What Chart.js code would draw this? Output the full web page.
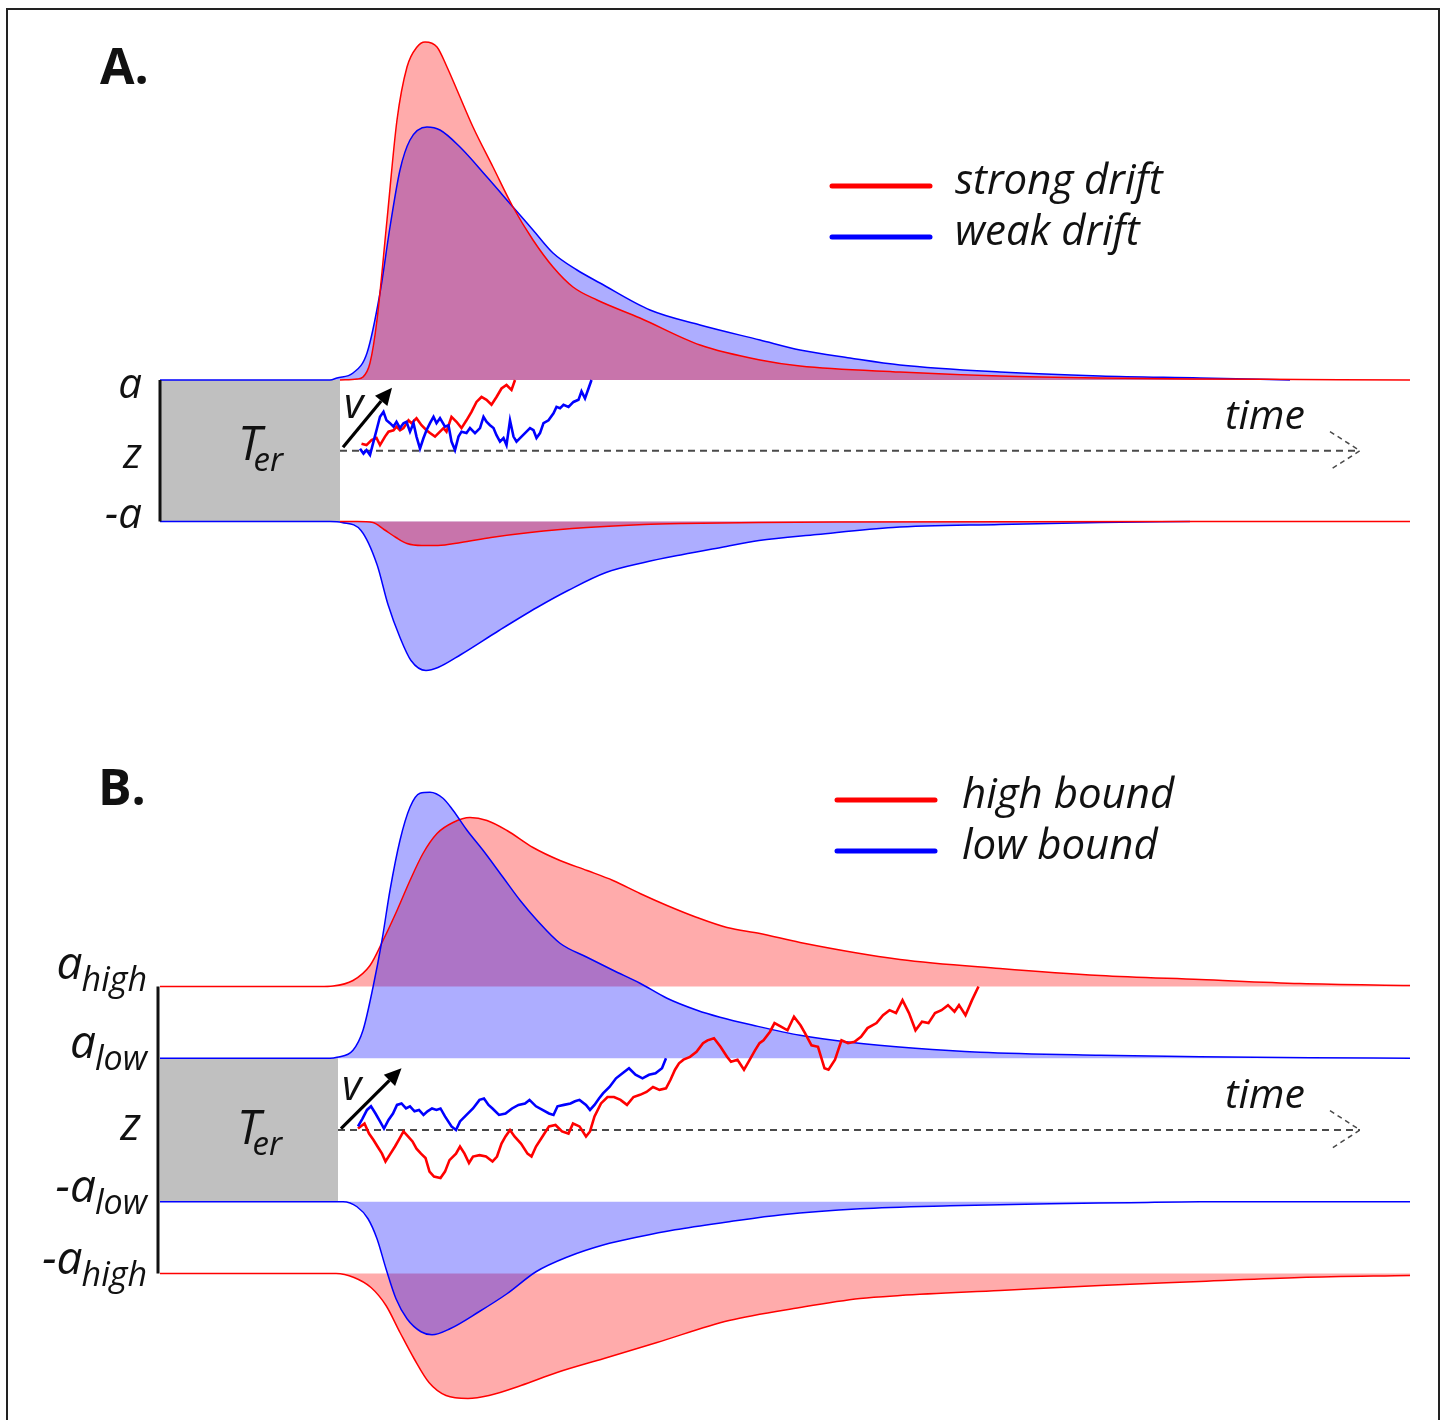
<!DOCTYPE html>
<html>
<head>
<meta charset="utf-8">
<title>Diffusion model: drift and boundary</title>
<script src="https://cdn.jsdelivr.net/npm/chart.js@4.4.1/dist/chart.umd.min.js"></script>
<style>
  html, body { margin: 0; padding: 0; background: #fff; }
  body { width: 1444px; height: 1420px; position: relative; overflow: hidden; }
  .frame { position: absolute; left: 6px; top: 8px; width: 1434px; height: 1440px; border: 2px solid #222; box-sizing: border-box; }
  .panel { position: absolute; left: 0; width: 1444px; height: 710px; }
  #panelA { top: 0; }
  #panelB { top: 710px; }
</style>
</head>
<body>
<div class="frame"></div>
<div class="panel" id="panelA"><canvas id="chartA" width="1444" height="710"></canvas></div>
<div class="panel" id="panelB"><canvas id="chartB" width="1444" height="710"></canvas></div>
<script>
// time in ms, evidence in boundary units, densities in 1/s
const T_END = 2500;
const TIME_AXIS_END = 2400;

// ---- panel A : strong vs weak drift (bounds a, z, -a)
const boundsA = [1, 0, -1];
const boundLabelsA = [['a', ''], ['z', ''], ['-a', '']];
const legendA = ['strong drift', 'weak drift'];
const terA = 360;

const strongUpT = [360,394,406,420,434,454,474,494,514,530,554,574,594,626,666,706,746,786,826,874,960,1080,1200,1280,1480,1680,1880,2080,2280,2500];
const strongUpD = [0,.01,.03,.17,.60,1.60,2.60,3.13,3.33,3.38,3.33,3.13,2.90,2.53,2.13,1.73,1.40,1.13,.93,.80,.62,.35,.20,.14,.08,.04,.02,.01,.005,0];
const weakUpT = [0,340,354,386,414,440,460,480,500,534,560,600,654,706,746,786,834,880,980,1080,1200,1280,1380,1480,1680,1880,2080,2260];
const weakUpD = [0,0,.02,.07,.27,.87,1.53,2.10,2.40,2.53,2.50,2.33,2.03,1.73,1.50,1.27,1.10,.97,.70,.55,.40,.30,.22,.15,.08,.04,.02,0];
const strongLowT = [360,394,426,448,472,494,524,556,602,662,740,854,968,1046,1198,1352,2500];
const strongLowD = [0,0,.01,.08,.16,.22,.24,.24,.21,.16,.11,.06,.03,.02,.01,.005,0];
const weakLowT = [0,340,364,402,434,456,480,502,532,556,602,678,754,816,892,968,1046,1122,1198,1314,1466,1680,1880,2060];
const weakLowD = [0,0,.01,.09,.43,.83,1.16,1.39,1.49,1.46,1.33,1.09,.86,.69,.51,.41,.33,.26,.19,.13,.06,.03,.01,0];

const walkAStrongT = [403,413,423,433,440,450,457,467,473,480,487,497,503,513,523,533,540,550,557,567,573,583,593,603,613,623,633,643,653,663,673,683,693,703,710];
const walkAStrongV = [.10,.08,.15,.18,.08,.20,.27,.29,.34,.29,.32,.43,.39,.46,.36,.29,.25,.20,.25,.32,.27,.48,.41,.32,.43,.55,.69,.76,.72,.65,.76,.88,.93,.86,1.0];
const walkAWeakT = [400,407,413,420,427,433,440,447,453,460,467,473,480,487,493,500,507,513,520,527,533,540,547,553,560,570,577,583,590,597,603,613,620,630,640,647,653,660,667,673,680,687,693,700,707,713,723,733,740,747,753,760,767,777,787,793,800,807,817,827,837,843,850,857,863];
const walkAWeakV = [.03,-.04,.01,-.06,.13,.29,.48,.55,.43,.39,.34,.41,.32,.39,.41,.27,.39,.20,.03,.18,.29,.39,.48,.39,.46,.34,.36,.13,.01,.20,.27,.25,.32,.25,.32,.48,.41,.36,.32,.22,.13,.18,.08,.43,.20,.13,.20,.27,.32,.29,.18,.25,.39,.43,.53,.62,.60,.65,.62,.69,.72,.84,.74,.88,1.0];

// ---- panel B : high vs low bound (a_high, a_low, z, -a_low, -a_high)
const boundsB = [2, 1, 0, -1, -2];
const boundLabelsB = [['a', 'high'], ['a', 'low'], ['z', ''], ['-a', 'low'], ['-a', 'high']];
const legendB = ['high bound', 'low bound'];
const terB = 356;

const lowUpT = [0,340,354,386,406,426,444,460,480,500,520,540,566,586,614,646,686,720,754,800,854,906,960,1014,1074,1120,1186,1280,1380,1510,1640,1880,2080,2300,2500];
const lowUpD = [0,0,.01,.08,.28,.71,1.18,1.68,2.18,2.51,2.65,2.66,2.60,2.48,2.28,2.08,1.81,1.58,1.38,1.15,1.01,.88,.75,.60,.48,.41,.33,.23,.16,.10,.06,.03,.015,.005,0];
const highUpT = [0,320,346,386,420,446,474,500,526,554,586,620,654,694,746,800,854,906,960,1014,1074,1134,1200,1280,1480,1680,1880,2080,2280,2500];
const highUpD = [0,0,.005,.06,.21,.46,.76,1.06,1.33,1.53,1.64,1.69,1.66,1.56,1.39,1.26,1.16,1.06,.93,.81,.69,.59,.53,.44,.27,.18,.11,.07,.03,.01];
const lowLowT = [0,340,366,394,416,434,452,472,494,522,544,580,638,694,752,816,888,958,1030,1138,1244,1400,1580,1780,1940,2080,2500];
const lowLowD = [0,0,0,.05,.17,.37,.67,.97,1.17,1.30,1.33,1.27,1.10,.92,.70,.55,.43,.35,.28,.20,.13,.07,.04,.02,.01,0,0];
const highLowT = [0,320,352,388,422,452,480,508,538,572,616,658,722,794,888,994,1138,1280,1400,1480,1680,1880,2080,2280,2500];
const highLowD = [0,0,0,.04,.14,.32,.59,.85,1.09,1.22,1.25,1.22,1.12,.99,.85,.69,.47,.34,.25,.22,.17,.12,.08,.04,.02];

const walkBLowT = [396,405,414,422,431,440,448,457,466,474,483,492,500,509,518,527,535,544,553,561,570,583,592,600,613,626,639,648,657,665,678,691,704,717,730,739,752,765,778,787,795,808,821,830,839,852,860,869,878,886,899,912,925,938,951,965,978,991,1004,1012];
const walkBLowV = [.05,.16,.28,.33,.23,.12,.02,.14,.23,.35,.37,.30,.33,.26,.28,.21,.26,.30,.28,.30,.19,.05,0,.12,.21,.30,.42,.44,.35,.30,.21,.23,.30,.35,.37,.42,.33,.28,.23,.21,.33,.35,.37,.40,.42,.35,.28,.35,.44,.51,.60,.72,.79,.86,.77,.72,.77,.79,.86,1.0];
const walkBHighT = [396,409,418,427,435,444,451,461,470,479,487,496,505,513,522,531,539,548,561,570,579,592,600,609,618,626,639,652,665,674,683,691,700,709,722,735,743,752,765,778,791,804,817,826,839,852,860,869,882,895,908,921,934,947,960,973,986,999,1012,1021,1030,1038,1047,1060,1073,1086,1095,1108,1121,1134,1142,1155,1168,1177,1190,1199,1207,1220,1229,1242,1255,1268,1281,1290,1303,1316,1329,1337,1350,1363,1376,1389,1402,1415,1433,1446,1459,1472,1485,1498,1511,1524,1537,1550,1563,1576,1589,1598,1611,1624,1637];
const walkBHighV = [.02,.09,-.05,-.14,-.23,-.33,-.44,-.33,-.23,-.12,-.02,-.09,-.16,-.26,-.33,-.39,-.58,-.65,-.67,-.58,-.42,-.33,-.23,-.33,-.46,-.37,-.35,-.37,-.44,-.37,-.19,-.09,0,-.09,-.19,-.33,-.37,-.23,-.09,.05,.07,-.02,-.05,.09,.05,-.09,-.02,.19,.37,.46,.46,.42,.35,.46,.49,.53,.60,.56,.58,.70,.84,.93,.98,1.02,1.09,1.21,1.25,1.28,1.16,1.02,.95,.98,.84,.95,1.11,1.21,1.25,1.37,1.49,1.44,1.39,1.58,1.46,1.35,1.18,1.16,.86,.84,.98,1.25,1.21,1.23,1.30,1.42,1.49,1.60,1.67,1.63,1.81,1.63,1.39,1.51,1.49,1.63,1.67,1.74,1.65,1.74,1.60,1.81,2.0];

// ---- styles
const RED = '#ff0000', BLUE = '#0000ff';
const RED_FILL = 'rgba(255,0,0,0.33)', BLUE_FILL = 'rgba(0,0,255,0.32)';
const ITAL = '"Open Sans", "DejaVu Sans", sans-serif';

function densitySet(times, dens, bound, sign, color, fillColor, gain) {
    return {
        data: times.map((t, i) => ({ x: t, y: bound + sign * dens[i] * gain })),
        borderColor: color,
        borderWidth: 1.5,
        backgroundColor: fillColor,
        fill: { value: bound },
        pointRadius: 0,
        cubicInterpolationMode: 'monotone'
    };
}

function walkSet(times, vals, color) {
    return {
        data: times.map((t, i) => ({ x: t, y: vals[i] })),
        borderColor: color,
        borderWidth: 2.6,
        fill: false,
        pointRadius: 0,
        tension: 0
    };
}

function timeAxisSets(ter) {
    const dash = { borderColor: '#4a4a4a', borderWidth: 2, borderDash: [7, 5], fill: false, pointRadius: 0, tension: 0 };
    return [
        Object.assign({ data: [{ x: ter, y: 0 }, { x: TIME_AXIS_END, y: 0 }] }, dash),
        Object.assign({ data: [{ x: TIME_AXIS_END - 60, y: 0.27 }, { x: TIME_AXIS_END, y: 0 }, { x: TIME_AXIS_END - 60, y: -0.27 }] }, dash, { borderDash: [5, 4], borderWidth: 1.5 })
    ];
}

function drawArrow(ctx, x0, y0, x1, y1) {
    const ang = Math.atan2(y1 - y0, x1 - x0);
    const head = 17, hw = 8;
    const bx = x1 - head * Math.cos(ang), by = y1 - head * Math.sin(ang);
    ctx.strokeStyle = '#000';
    ctx.lineWidth = 3.2;
    ctx.beginPath(); ctx.moveTo(x0, y0); ctx.lineTo(bx, by); ctx.stroke();
    ctx.fillStyle = '#000';
    ctx.beginPath();
    ctx.moveTo(x1, y1);
    ctx.lineTo(bx + hw * Math.sin(ang), by - hw * Math.cos(ang));
    ctx.lineTo(bx - hw * Math.sin(ang), by + hw * Math.cos(ang));
    ctx.closePath();
    ctx.fill();
}

const decorPlugin = {
    id: 'decor',
    beforeDraw(chart, args, o) {
        const { ctx, scales: { x, y } } = chart;
        ctx.save();
        ctx.fillStyle = '#c0c0c0';
        const x0 = x.getPixelForValue(0), x1 = x.getPixelForValue(o.ter);
        const yt = y.getPixelForValue(o.boxBound), yb = y.getPixelForValue(-o.boxBound);
        ctx.fillRect(x0, yt, x1 - x0, yb - yt);
        ctx.restore();
    },
    afterDatasetsDraw(chart, args, o) {
        const { ctx, scales: { x, y } } = chart;
        ctx.save();
        // vertical evidence axis
        const ax = x.getPixelForValue(0) + o.axisShift;
        ctx.strokeStyle = '#111';
        ctx.lineWidth = 3;
        ctx.beginPath();
        ctx.moveTo(ax, y.getPixelForValue(o.bounds[0]));
        ctx.lineTo(ax, y.getPixelForValue(o.bounds[o.bounds.length - 1]));
        ctx.stroke();

        // drift arrow + v
        const ax0 = x.getPixelForValue(o.arrow[0]), ay0 = y.getPixelForValue(o.arrow[1]);
        const ax1 = x.getPixelForValue(o.arrow[2]), ay1 = y.getPixelForValue(o.arrow[3]);
        drawArrow(ctx, ax0, ay0, ax1, ay1);
        ctx.fillStyle = '#111';
        ctx.textAlign = 'left';
        ctx.textBaseline = 'alphabetic';
        ctx.font = 'italic 42px ' + ITAL;
        ctx.fillText('v', ax0 + 1, ay0 - 29);

        // boundary labels
        const zPix = y.getPixelForValue(0);
        o.bounds.forEach((b, i) => {
            const [main, sub] = o.labels[i];
            const base = y.getPixelForValue(b) + o.labelOffsets[i];
            if (sub) {
                ctx.font = 'italic ' + o.subSize + 'px ' + ITAL;
                const ws = ctx.measureText(sub).width;
                const xs = o.subRight - ws;
                ctx.textAlign = 'left';
                ctx.fillText(sub, xs, base + 12);
                ctx.font = 'italic ' + o.mainSize + 'px ' + ITAL;
                ctx.textAlign = 'right';
                ctx.fillText(main, xs + 1, base);
            } else {
                ctx.font = 'italic ' + o.mainSize + 'px ' + ITAL;
                ctx.textAlign = 'right';
                ctx.fillText(main, o.labelRight, base);
            }
        });

        // T_er
        const bx = (x.getPixelForValue(0) + x.getPixelForValue(o.ter)) / 2 - 12;
        ctx.textAlign = 'left';
        ctx.font = 'italic 47px ' + ITAL;
        ctx.fillText('T', bx, zPix + o.terDy);
        const wT = ctx.measureText('T').width;
        ctx.font = 'italic 33px ' + ITAL;
        ctx.fillText('er', bx + wT - 8, zPix + o.terDy + 11);

        // time label
        ctx.font = 'italic 41px ' + ITAL;
        ctx.textAlign = 'center';
        ctx.fillText('time', x.getPixelForValue(2210), zPix - 22);

        // legend
        o.legend.forEach((txt, i) => {
            const ly = o.legendY[i];
            ctx.strokeStyle = o.legendColors[i];
            ctx.lineWidth = 5;
            ctx.lineCap = 'round';
            ctx.beginPath();
            ctx.moveTo(o.legendX[0], ly);
            ctx.lineTo(o.legendX[1], ly);
            ctx.stroke();
            ctx.fillStyle = '#111';
            ctx.font = 'italic 42px ' + ITAL;
            ctx.textAlign = 'left';
            ctx.fillText(txt, o.legendX[2], ly + 8);
        });

        // panel letter
        ctx.font = 'bold 50px "Open Sans", "Liberation Sans", sans-serif';
        ctx.textAlign = 'left';
        ctx.fillText(o.letter, o.letterPos[0], o.letterPos[1]);
        ctx.restore();
    }
};

function buildChart(canvasId, p, datasets, decor) {
    const H = 710;
    const ctx = document.getElementById(canvasId).getContext('2d');
    return new Chart(ctx, {
        type: 'line',
        data: { datasets: datasets },
        options: {
            responsive: false,
            animation: false,
            devicePixelRatio: 1,
            layout: {
                padding: {
                    left: 160,
                    right: 34,
                    top: p.zPix - p.yMax * p.ppu,
                    bottom: H - (p.zPix - p.yMin * p.ppu)
                }
            },
            scales: {
                x: { type: 'linear', min: 0, max: T_END, display: false },
                y: { type: 'linear', min: p.yMin, max: p.yMax, display: false }
            },
            plugins: {
                legend: { display: false },
                tooltip: { enabled: false },
                filler: { drawTime: 'beforeDatasetsDraw' },
                decor: decor
            }
        },
        plugins: [decorPlugin]
    });
}

// panel A
const pA = { ppu: 70.75, zPix: 450.75, yMin: -3.5, yMax: 6 };
const gA = 100 / pA.ppu;
buildChart('chartA', pA, [
    walkSet(walkAWeakT, walkAWeakV, BLUE),
    walkSet(walkAStrongT, walkAStrongV, RED),
    ...timeAxisSets(terA),
    densitySet(strongUpT, strongUpD, 1, 1, RED, RED_FILL, gA),
    densitySet(strongLowT, strongLowD, -1, -1, RED, RED_FILL, gA),
    densitySet(weakUpT, weakUpD, 1, 1, BLUE, BLUE_FILL, gA),
    densitySet(weakLowT, weakLowD, -1, -1, BLUE, BLUE_FILL, gA)
], {
    ter: terA, boxBound: 1, bounds: boundsA, labels: boundLabelsA,
    labelOffsets: [18, 17, 6], labelRight: 142, subRight: 145, axisShift: 0,
    mainSize: 42, subSize: 32,
    arrow: [366, 0.05, 464, 0.89], terDy: 9,
    legend: legendA, legendColors: [RED, BLUE], legendX: [832, 930, 955], legendY: [186, 237],
    letter: 'A.', letterPos: [100, 84]
});

// panel B
const pB = { ppu: 71.75, zPix: 420, yMin: -4, yMax: 5 };
const gB = 100 / pB.ppu;
buildChart('chartB', pB, [
    walkSet(walkBLowT, walkBLowV, BLUE),
    walkSet(walkBHighT, walkBHighV, RED),
    ...timeAxisSets(terB),
    densitySet(lowUpT, lowUpD, 1, 1, BLUE, BLUE_FILL, gB),
    densitySet(lowLowT, lowLowD, -1, -1, BLUE, BLUE_FILL, gB),
    densitySet(highUpT, highUpD, 2, 1, RED, RED_FILL, gB),
    densitySet(highLowT, highLowD, -2, -1, RED, RED_FILL, gB)
], {
    ter: terB, boxBound: 1, bounds: boundsB, labels: boundLabelsB,
    labelOffsets: [-8, 0, 10, 0, 0], labelRight: 141, subRight: 147, axisShift: -2,
    mainSize: 46, subSize: 34,
    arrow: [362, 0.02, 483, 0.86], terDy: 14,
    legend: legendB, legendColors: [RED, BLUE], legendX: [837, 935, 962], legendY: [90, 141],
    letter: 'B.', letterPos: [98, 95]
});
</script>
</body>
</html>
